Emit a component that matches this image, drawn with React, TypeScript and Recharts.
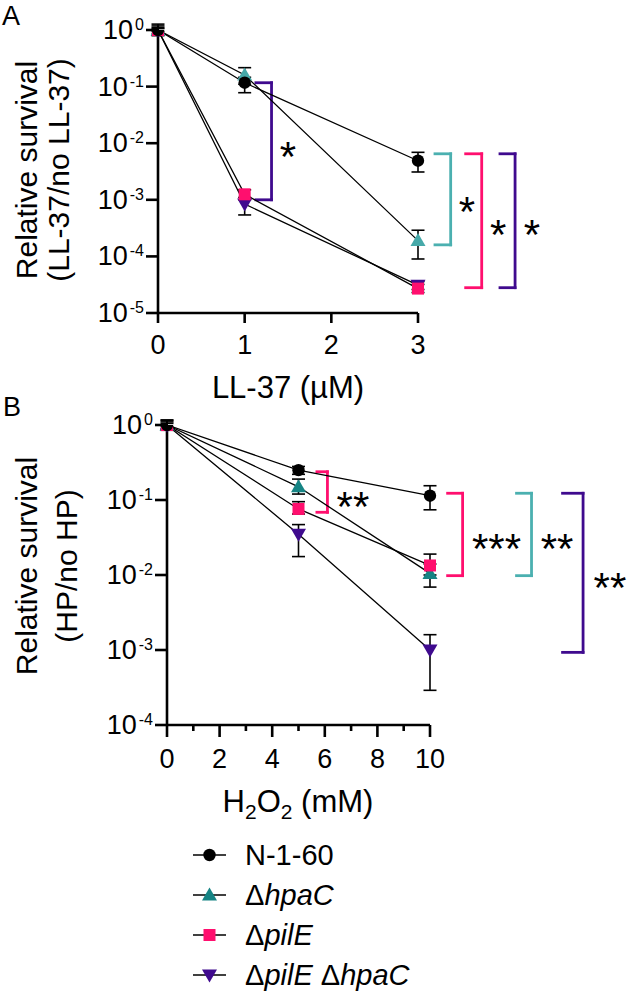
import { LineChart, Line, XAxis, YAxis, ErrorBar, ReferenceLine, ReferenceDot } from 'recharts'

const FONT = 'Arial, "Liberation Sans", Helvetica, sans-serif'

const BLACK = '#000000'
const TEAL_A = '#46A9A9'
const TEAL_B = '#168484'
const TEAL_LINE = '#4BB0B0'
const PINK = '#FF0F6E'
const PURPLE = '#3F0A8E'

// ---- panel A: LL-37 ----
const LL37_DOSE = [0, 1, 3]
const LL37_N160 = [1, 0.117, 0.0049]
const LL37_N160_LO = [0.94, 0.078, 0.0031]
const LL37_N160_HI = [1.06, 0.146, 0.0069]
const LL37_HPAC = [1, 0.16, 0.00019]
const LL37_HPAC_LO = [0.8, 0.11, 0.00009]
const LL37_HPAC_HI = [1.1, 0.216, 0.00029]
const LL37_PILE = [1, 0.00125, 0.000027]
const LL37_PILE_LO = [0.85, 0.001, 0.000023]
const LL37_PILE_HI = [1.18, 0.0015, 0.000032]
const LL37_DBL = [1, 0.00084, 0.000031]
const LL37_DBL_LO = [0.8, 0.00054, 0.000026]
const LL37_DBL_HI = [1.27, 0.0011, 0.000036]

// ---- panel B: H2O2 ----
const HP_DOSE = [0, 5, 10]
const HP_N160 = [1, 0.25, 0.114]
const HP_N160_LO = [0.95, 0.22, 0.074]
const HP_N160_HI = [1.05, 0.28, 0.155]
const HP_HPAC = [1, 0.15, 0.0105]
const HP_HPAC_LO = [0.85, 0.12, 0.0069]
const HP_HPAC_HI = [1.1, 0.19, 0.014]
const HP_PILE = [1, 0.076, 0.0134]
const HP_PILE_LO = [0.88, 0.065, 0.01]
const HP_PILE_HI = [1.15, 0.095, 0.019]
const HP_DBL = [1, 0.035, 0.001]
const HP_DBL_LO = [0.88, 0.0176, 0.00029]
const HP_DBL_HI = [1.17, 0.047, 0.0016]

const LL37_TICKS_X = [0, 1, 2, 3]
const HP_TICKS_X = [0, 1, 2, 3, 4, 5, 6, 7, 8, 9, 10]
const LL37_TICKS_Y = [1, 0.1, 0.01, 0.001, 0.0001, 0.00001]
const HP_TICKS_Y = [1, 0.1, 0.01, 0.001, 0.0001]

// significance brackets, in data units
const LL37_BRACKETS = [
  { color: PURPLE, x0: 1.13, x1: 1.31, top: 0.117, bottom: 0.001 },
  { color: TEAL_LINE, x0: 3.196, x1: 3.377, top: 0.0065, bottom: 0.00016 },
  { color: PINK, x0: 3.55, x1: 3.735, top: 0.0065, bottom: 0.000028 },
  { color: PURPLE, x0: 3.946, x1: 4.12, top: 0.0065, bottom: 0.000028 },
]
const LL37_STARS = [
  { text: '*', x: 1.5, y: 0.0087 },
  { text: '*', x: 3.565, y: 0.0009 },
  { text: '*', x: 3.925, y: 0.00036 },
  { text: '*', x: 4.315, y: 0.00036 },
]
const HP_BRACKETS = [
  { color: PINK, x0: 5.7, x1: 6.1, top: 0.238, bottom: 0.0686 },
  { color: PINK, x0: 10.67, x1: 11.24, top: 0.123, bottom: 0.0098 },
  { color: TEAL_LINE, x0: 13.29, x1: 13.86, top: 0.123, bottom: 0.0098 },
  { color: PURPLE, x0: 15.04, x1: 15.82, top: 0.123, bottom: 0.00093 },
]
const HP_STARS = [
  { text: '**', x: 7.07, y: 0.111 },
  { text: '***', x: 12.53, y: 0.03 },
  { text: '**', x: 14.83, y: 0.03 },
  { text: '**', x: 16.84, y: 0.0091 },
]

type Shape = 'circle' | 'up' | 'square' | 'down'

// drawing order: last one ends up on top
const STRAINS: { key: string; shape: Shape }[] = [
  { key: 'dbl', shape: 'down' },
  { key: 'hpac', shape: 'up' },
  { key: 'pile', shape: 'square' },
  { key: 'n160', shape: 'circle' },
]

function buildRows(xs: number[], series: Record<string, number[][]>) {
  return xs.map((x, i) => {
    const row: Record<string, any> = { x }
    for (const key of Object.keys(series)) {
      const [v, lo, hi] = series[key]
      row[key] = v[i]
      row[key + 'Err'] = [v[i] - lo[i], hi[i] - v[i]]
    }
    return row
  })
}

const ll37Rows = buildRows(LL37_DOSE, {
  n160: [LL37_N160, LL37_N160_LO, LL37_N160_HI],
  hpac: [LL37_HPAC, LL37_HPAC_LO, LL37_HPAC_HI],
  pile: [LL37_PILE, LL37_PILE_LO, LL37_PILE_HI],
  dbl: [LL37_DBL, LL37_DBL_LO, LL37_DBL_HI],
})

const hpRows = buildRows(HP_DOSE, {
  n160: [HP_N160, HP_N160_LO, HP_N160_HI],
  hpac: [HP_HPAC, HP_HPAC_LO, HP_HPAC_HI],
  pile: [HP_PILE, HP_PILE_LO, HP_PILE_HI],
  dbl: [HP_DBL, HP_DBL_LO, HP_DBL_HI],
})

function Marker({ shape, color, cx, cy }: { shape: Shape; color: string; cx: number; cy: number }) {
  if (shape === 'circle') return <circle cx={cx} cy={cy} r={6.2} fill={color} />
  if (shape === 'square') return <rect x={cx - 6} y={cy - 6} width={12} height={12} fill={color} />
  if (shape === 'up')
    return <path d={`M${cx},${cy - 7.5}L${cx + 7.5},${cy + 5.5}L${cx - 7.5},${cy + 5.5}Z`} fill={color} />
  return <path d={`M${cx - 7.5},${cy - 5.5}L${cx + 7.5},${cy - 5.5}L${cx},${cy + 7.5}Z`} fill={color} />
}

function YTick(props: any) {
  const { x, y, payload } = props
  const exp = Math.round(Math.log10(payload.value))
  return (
    <g>
      <line x1={x - 12} x2={x} y1={y} y2={y} stroke={BLACK} strokeWidth={2.6} />
      <text x={x - 14} y={y + 9} textAnchor="end" fontSize={27} fontFamily={FONT} fill={BLACK}>
        10<tspan dx={2} dy={-9} fontSize={16}>{exp}</tspan>
      </text>
    </g>
  )
}

const xTick = (labelEvery: number, major: number, minor: number, labelDy: number) => (props: any) => {
  const { x, y, payload } = props
  const v = payload.value
  const labelled = v % labelEvery === 0
  return (
    <g>
      <line x1={x} x2={x} y1={y} y2={y + (labelled ? major : minor)} stroke={BLACK} strokeWidth={2.6} />
      {labelled && (
        <text x={x} y={y + labelDy} textAnchor="middle" fontSize={27} fontFamily={FONT} fill={BLACK}>
          {v}
        </text>
      )}
    </g>
  )
}

const yTitle = (lines: string[], xs: number[], cy: number) => () => (
  <g>
    {lines.map((t, i) => (
      <text
        key={i}
        transform={`translate(${xs[i]},${cy}) rotate(-90)`}
        textAnchor="middle"
        fontSize={30}
        fontFamily={FONT}
        fill={BLACK}
      >
        {t}
      </text>
    ))}
  </g>
)

function renderBrackets(brackets: typeof LL37_BRACKETS, prefix: string) {
  return brackets.flatMap((b, i) =>
    [
      [{ x: b.x0, y: b.top }, { x: b.x1, y: b.top }],
      [{ x: b.x1, y: b.top }, { x: b.x1, y: b.bottom }],
      [{ x: b.x0, y: b.bottom }, { x: b.x1, y: b.bottom }],
    ].map((seg, j) => (
      <ReferenceLine
        key={`${prefix}-${i}-${j}`}
        segment={seg}
        stroke={b.color}
        strokeWidth={2.8}
        strokeLinecap="square"
        ifOverflow="visible"
      />
    ))
  )
}

function renderStars(stars: typeof LL37_STARS, prefix: string) {
  return stars.map((s, i) => (
    <ReferenceDot
      key={`${prefix}-star-${i}`}
      x={s.x}
      y={s.y}
      r={0}
      ifOverflow="visible"
      shape={(p: any) => (
        <text x={p.cx} y={p.cy + 24} textAnchor="middle" fontSize={42} fontFamily={FONT} fill={BLACK}>
          {s.text}
        </text>
      )}
    />
  ))
}

function renderLines(colors: Record<string, string>) {
  return STRAINS.map((s) => (
    <Line
      key={s.key}
      dataKey={s.key}
      type="linear"
      stroke={BLACK}
      strokeWidth={1.3}
      isAnimationActive={false}
      activeDot={false}
      dot={(p: any) => <Marker key={`${s.key}-${p.index}`} shape={s.shape} color={colors[s.key]} cx={p.cx} cy={p.cy} />}
    >
      <ErrorBar dataKey={`${s.key}Err`} direction="y" width={6.5} stroke={BLACK} strokeWidth={1.6} isAnimationActive={false} />
    </Line>
  ))
}

const LEGEND = [
  { shape: 'circle' as Shape, color: BLACK, parts: [['N-1-60', false]] },
  { shape: 'up' as Shape, color: TEAL_B, parts: [['Δ', false], ['hpaC', true]] },
  { shape: 'square' as Shape, color: PINK, parts: [['Δ', false], ['pilE', true]] },
  { shape: 'down' as Shape, color: PURPLE, parts: [['Δ', false], ['pilE', true], [' Δ', false], ['hpaC', true]] },
]

function Legend() {
  return (
    <svg width={627} height={164} style={{ position: 'absolute', left: 0, top: 830 }}>
      {LEGEND.map((row, i) => {
        const y = 25 + i * 40
        return (
          <g key={i}>
            <line x1={193} x2={226} y1={y} y2={y} stroke={BLACK} strokeWidth={1.4} />
            <Marker shape={row.shape} color={row.color} cx={209.5} cy={y} />
            <text x={245} y={y + 10} fontSize={29} fontFamily={FONT} fill={BLACK}>
              {row.parts.map(([t, it], j) => (
                <tspan key={j} fontStyle={it ? 'italic' : 'normal'}>
                  {t as string}
                </tspan>
              ))}
            </text>
          </g>
        )
      })}
    </svg>
  )
}

const axisStyle = { stroke: BLACK, strokeWidth: 2.6 }

export default function App() {
  return (
    <div style={{ position: 'absolute', left: 0, top: 0, width: 627, height: 994, background: '#fff' }}>
      <svg width={627} height={994} style={{ position: 'absolute', left: 0, top: 0 }}>
        <text x={2} y={25} fontSize={27} fontFamily={FONT} fill={BLACK}>A</text>
        <text x={3} y={416} fontSize={27} fontFamily={FONT} fill={BLACK}>B</text>
      </svg>

      <div style={{ position: 'absolute', left: 0, top: 0 }}>
        <LineChart width={627} height={412} data={ll37Rows} margin={{ top: 30, right: 209, bottom: 0, left: 0 }}>
          <XAxis
            dataKey="x"
            type="number"
            domain={[0, 3]}
            ticks={LL37_TICKS_X}
            interval={0}
            height={99}
            axisLine={axisStyle}
            tickLine={false}
            tickSize={0}
            tickMargin={0}
            tick={xTick(1, 10, 10, 41)}
            label={{
              content: () => (
                <text x={288} y={398} textAnchor="middle" fontSize={31} fontFamily={FONT} fill={BLACK}>
                  LL-37 (µM)
                </text>
              ),
            }}
          />
          <YAxis
            scale="log"
            type="number"
            domain={[0.00001, 1]}
            allowDataOverflow
            ticks={LL37_TICKS_Y}
            interval={0}
            width={158}
            axisLine={axisStyle}
            tickLine={false}
            tickSize={0}
            tickMargin={0}
            tick={YTick}
            label={{ content: yTitle(['Relative survival', '(LL-37/no LL-37)'], [37, 69], 170) }}
          />
          {renderBrackets(LL37_BRACKETS, 'a')}
          {renderStars(LL37_STARS, 'a')}
          {renderLines({ n160: BLACK, hpac: TEAL_A, pile: PINK, dbl: PURPLE })}
        </LineChart>
      </div>

      <div style={{ position: 'absolute', left: 0, top: 400 }}>
        <LineChart width={627} height={440} data={hpRows} margin={{ top: 25, right: 197, bottom: 0, left: 0 }}>
          <XAxis
            dataKey="x"
            type="number"
            domain={[0, 10]}
            ticks={HP_TICKS_X}
            interval={0}
            height={115}
            axisLine={axisStyle}
            tickLine={false}
            tickSize={0}
            tickMargin={0}
            tick={xTick(2, 12, 6, 43)}
            label={{
              content: () => (
                <text x={298} y={412} textAnchor="middle" fontSize={31} fontFamily={FONT} fill={BLACK}>
                  H<tspan dy={7} fontSize={21}>2</tspan>
                  <tspan dy={-7}>O</tspan>
                  <tspan dy={7} fontSize={21}>2</tspan>
                  <tspan dy={-7}> (mM)</tspan>
                </text>
              ),
            }}
          />
          <YAxis
            scale="log"
            type="number"
            domain={[0.0001, 1]}
            allowDataOverflow
            ticks={HP_TICKS_Y}
            interval={0}
            width={167}
            axisLine={axisStyle}
            tickLine={false}
            tickSize={0}
            tickMargin={0}
            tick={YTick}
            label={{ content: yTitle(['Relative survival', '(HP/no HP)'], [37, 77], 166) }}
          />
          {renderBrackets(HP_BRACKETS, 'b')}
          {renderStars(HP_STARS, 'b')}
          {renderLines({ n160: BLACK, hpac: TEAL_B, pile: PINK, dbl: PURPLE })}
        </LineChart>
      </div>

      <Legend />
    </div>
  )
}
